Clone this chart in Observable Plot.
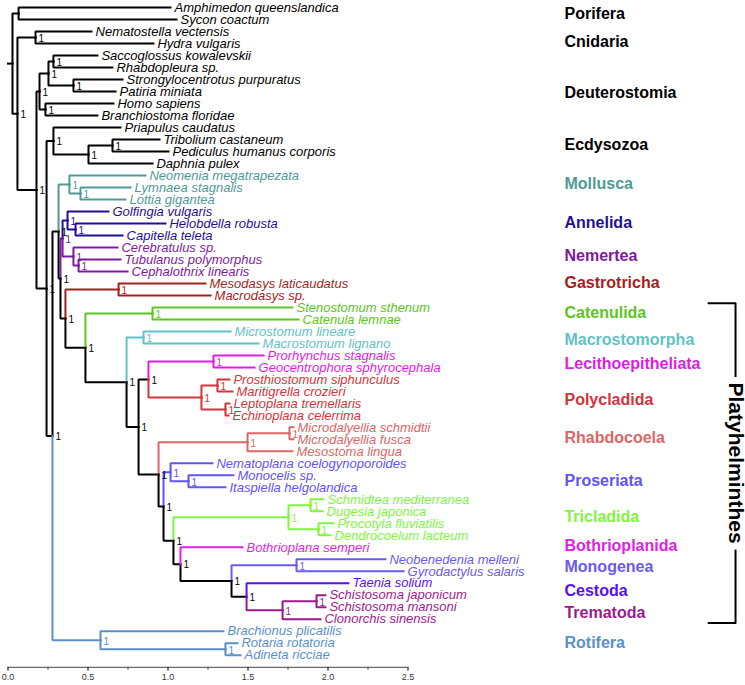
<!DOCTYPE html>
<html><head><meta charset="utf-8">
<script src="https://cdn.jsdelivr.net/npm/d3@7"></script>
<script src="https://cdn.jsdelivr.net/npm/@observablehq/plot@0.6"></script>
<style>html,body{margin:0;padding:0;background:#fff}</style>
</head><body><div id="chart"></div>
<script>
// ---------- DATA ----------
// Tips, top to bottom, with parent node and root-to-tip depth (substitutions/site)
const tipNames = [
 "Amphimedon queenslandica","Sycon coactum","Nematostella vectensis","Hydra vulgaris",
 "Saccoglossus kowalevskii","Rhabdopleura sp.","Strongylocentrotus purpuratus","Patiria miniata",
 "Homo sapiens","Branchiostoma floridae","Priapulus caudatus","Tribolium castaneum",
 "Pediculus humanus corporis","Daphnia pulex","Neomenia megatrapezata","Lymnaea stagnalis",
 "Lottia gigantea","Golfingia vulgaris","Helobdella robusta","Capitella teleta",
 "Cerebratulus sp.","Tubulanus polymorphus","Cephalothrix linearis","Mesodasys laticaudatus",
 "Macrodasys sp.","Stenostomum sthenum","Catenula lemnae","Microstomum lineare",
 "Macrostomum lignano","Prorhynchus stagnalis","Geocentrophora sphyrocephala","Prosthiostomum siphunculus",
 "Maritigrella crozieri","Leptoplana tremellaris","Echinoplana celerrima","Microdalyellia schmidtii",
 "Microdalyellia fusca","Mesostoma lingua","Nematoplana coelogynoporoides","Monocelis sp.",
 "Itaspiella helgolandica","Schmidtea mediterranea","Dugesia japonica","Procotyla fluviatilis",
 "Dendrocoelum lacteum","Bothrioplana semperi","Neobenedenia melleni","Gyrodactylus salaris",
 "Taenia solium","Schistosoma japonicum","Schistosoma mansoni","Clonorchis sinensis",
 "Brachionus plicatilis","Rotaria rotatoria","Adineta ricciae"
];
const tipParents = [
 "Porifera","Porifera","Cnidaria","Cnidaria",
 "Hemichordata","Hemichordata","Echinodermata","Echinodermata",
 "Chordata","Chordata","Ecdysozoa","Insecta",
 "Insecta","Arthropoda","Mollusca","Conchifera",
 "Conchifera","Annelida","Pleistoannelida","Pleistoannelida",
 "Nemertea","Palaeonemertea","Palaeonemertea","Gastrotricha",
 "Gastrotricha","Catenulida","Catenulida","Macrostomorpha",
 "Macrostomorpha","Lecithoepitheliata","Lecithoepitheliata","PolyA",
 "PolyA","PolyB","PolyB","Microdalyellia",
 "Microdalyellia","Rhabdocoela","Proseriata","ProsB",
 "ProsB","TriA","TriA","TriB",
 "TriB","Bothrio+Neodermata","Monogenea","Monogenea",
 "Cercomeromorphae","Schistosoma","Schistosoma","Trematoda",
 "Rotifera","Bdelloidea","Bdelloidea"
];
const tipDepths = [
 1.016,1.053,0.522,0.909,
 0.559,0.653,0.716,0.672,
 0.659,0.559,0.703,0.947,
 1.003,0.903,0.859,0.766,
 0.734,0.628,0.984,0.716,
 0.684,0.703,0.747,1.234,
 1.266,1.778,1.816,1.391,
 1.566,1.597,1.541,1.384,
 1.403,1.384,1.378,1.784,
 1.784,1.778,1.278,1.409,
 1.359,1.972,1.966,2.034,
 2.016,1.466,2.359,2.472,
 2.128,1.984,1.984,1.953,
 1.347,1.434,1.453
];
// Internal nodes with parent and depth
const nodeNames = [
 "root","Porifera","Eumetazoa","Cnidaria","Bilateria","Deuterostomia","Ambulacraria","Hemichordata",
 "Echinodermata","Chordata","Protostomia","Ecdysozoa","Arthropoda","Insecta","Spiralia","SpiraliaU",
 "Mollusca","Conchifera","Lophotrochozoa","Annelida+Nemertea","Annelida","Pleistoannelida","Nemertea","Palaeonemertea",
 "Rouphozoa","Gastrotricha","Platyhelminthes","Catenulida","Rhabditophora","Macrostomorpha","Trepaxonemata","Lecitho+Polyclad",
 "Lecithoepitheliata","Polycladida","PolyA","PolyB","Euneoophora","Rhabdocoela","Microdalyellia","Proseriata+",
 "Proseriata","ProsB","Tricladida+","Tricladida","TriA","TriB","Bothrio+Neodermata","Neodermata",
 "Monogenea","Cercomeromorphae","Trematoda","Schistosoma","Rotifera","Bdelloidea"
];
const nodeParents = [
 null,"root","root","Eumetazoa","Eumetazoa","Bilateria","Deuterostomia","Ambulacraria",
 "Ambulacraria","Deuterostomia","Bilateria","Protostomia","Ecdysozoa","Arthropoda","Protostomia","Spiralia",
 "SpiraliaU","Mollusca","SpiraliaU","Lophotrochozoa","Annelida+Nemertea","Annelida","Annelida+Nemertea","Nemertea",
 "Lophotrochozoa","Rouphozoa","Rouphozoa","Platyhelminthes","Platyhelminthes","Rhabditophora","Rhabditophora","Trepaxonemata",
 "Lecitho+Polyclad","Lecitho+Polyclad","Polycladida","Polycladida","Trepaxonemata","Euneoophora","Rhabdocoela","Euneoophora",
 "Proseriata+","Proseriata","Proseriata+","Tricladida+","Tricladida","Tricladida","Tricladida+","Bothrio+Neodermata",
 "Neodermata","Neodermata","Cercomeromorphae","Trematoda","Spiralia","Rotifera"
];
const nodeDepths = [
 0.028,0.066,0.059,0.172,0.178,0.197,0.253,0.284,
 0.409,0.234,0.241,0.284,0.503,0.653,0.278,0.316,
 0.384,0.453,0.328,0.341,0.372,0.422,0.409,0.441,
 0.359,0.691,0.484,0.903,0.741,0.847,0.816,0.878,
 1.284,1.209,1.309,1.359,0.941,1.497,1.759,0.972,
 1.016,1.128,1.034,1.753,1.891,1.941,1.078,1.397,
 1.803,1.491,1.716,1.928,0.578,1.359
];
// Support values shown at nodes (posterior = 1)
const supportValue = "1";
const unlabeledNodes = ["root","Porifera"];

// Clades named on the right: label, node where the clade begins, label row
const cladeNames = ["Porifera","Cnidaria","Deuterostomia","Ecdysozoa","Mollusca","Annelida","Nemertea","Gastrotricha",
 "Catenulida","Macrostomorpha","Lecithoepitheliata","Polycladida","Rhabdocoela","Proseriata","Tricladida",
 "Bothrioplanida","Monogenea","Cestoda","Trematoda","Rotifera"];
const cladeRootNodes = ["Porifera","Cnidaria","Deuterostomia","Ecdysozoa","Mollusca","Annelida","Annelida+Nemertea","Gastrotricha",
 "Catenulida","Macrostomorpha","Lecithoepitheliata","Polycladida","Rhabdocoela","Proseriata","Tricladida",
 "Bothrioplana semperi","Monogenea","Taenia solium","Trematoda","Rotifera"];
const cladeRows = [0.5,2.83,7.09,11.42,14.67,17.92,20.67,22.92,25.42,27.67,29.67,32.67,35.84,39.42,42.43,44.84,46.6,48.6,50.5,53.0];
const superClade = {name: "Platyhelminthes", first: "Stenostomum sthenum", last: "Clonorchis sinensis"};
const axisLabels = [0, 0.5, 1.0, 1.5, 2.0, 2.5];
const axisMinor = [0, 0.25, 0.5, 0.75, 1.0, 1.25, 1.5, 1.75, 2.0, 2.25, 2.5];

// ---------- STYLE ----------
const cladeColors = ["#000","#000","#000","#000","#4f9a97","#1f0f99","#7d1aa0","#a51e1e",
 "#5cc620","#5fc3c6","#e01be6","#d6333a","#dc6666","#6254f2","#80f53e",
 "#e21ee8","#6a5af0","#5512ee","#9c1a8f","#5b8fcb"];
const FONT = "'Liberation Sans', Arial, Helvetica, sans-serif";
const cladeLabelX = 3.478;     // right-hand label column, in x units
const bracketX0 = 4.378, bracketX1 = 4.547;

// ---------- LAYOUT ----------
const parentOf = new Map(), depthOf = new Map(), children = new Map();
nodeNames.forEach((n, i) => { parentOf.set(n, nodeParents[i]); depthOf.set(n, nodeDepths[i]); });
tipNames.forEach((n, i) => { parentOf.set(n, tipParents[i]); depthOf.set(n, tipDepths[i]); });
for (const [n, p] of parentOf) if (p) { if (!children.has(p)) children.set(p, []); children.get(p).push(n); }
const tipIndex = new Map(tipNames.map((n, i) => [n, i]));
const yCache = new Map();
function yOf(n) {
  if (tipIndex.has(n)) return tipIndex.get(n);
  if (yCache.has(n)) return yCache.get(n);
  const ys = children.get(n).map(yOf);
  const v = (d3.min(ys) + d3.max(ys)) / 2;
  yCache.set(n, v); return v;
}
function groupOf(n) {
  let c = n;
  while (c) { const k = cladeRootNodes.indexOf(c); if (k >= 0) return cladeNames[k]; c = parentOf.get(c); }
  return "Backbone";
}
const allNames = [...nodeNames, ...tipNames];
const edgePts = [];
for (const n of allNames) {
  const p = parentOf.get(n);
  const g = groupOf(n);
  if (!p) {
    edgePts.push({e: n, g, x: 0, y: yOf(n)}, {e: n, g, x: depthOf.get(n), y: yOf(n)});
    continue;
  }
  edgePts.push({e: n, g, x: depthOf.get(p), y: yOf(p)},
               {e: n, g, x: depthOf.get(p), y: yOf(n)},
               {e: n, g, x: depthOf.get(n), y: yOf(n)});
}
const tipsData = tipNames.map(n => ({name: n, x: depthOf.get(n), y: yOf(n), g: groupOf(n)}));
const nodeLabels = nodeNames.filter(n => !unlabeledNodes.includes(n))
  .map(n => ({x: depthOf.get(n), y: yOf(n), g: groupOf(n), t: supportValue}));
const cladeData = cladeNames.map((c, i) => ({name: c, y: cladeRows[i], g: c}));
const bTop = tipIndex.get(superClade.first) - 0.35, bBot = tipIndex.get(superClade.last) + 0.3;
const bracket = [{x: bracketX0, y: bTop}, {x: bracketX1, y: bTop}, {x: bracketX1, y: bBot}, {x: bracketX0, y: bBot}];

const nRows = tipNames.length; // 55 -> axis one row below the last tip
const chart = Plot.plot({
  width: 745, height: 685,
  marginLeft: 7.5, marginRight: 337.5, marginTop: 7, marginBottom: 18.2,
  style: {fontFamily: FONT, background: "#fff", overflow: "visible"},
  x: {domain: [0, 2.5], axis: null, label: null},
  y: {domain: [0, nRows], reverse: true, axis: null, label: null},
  color: {type: "ordinal", domain: [...cladeNames, "Backbone"], range: [...cladeColors, "#000"]},
  marks: [
    Plot.ruleY([nRows], {stroke: "#444", strokeWidth: 1}),
    Plot.axisX({ticks: axisMinor, tickSize: 3, tickFormat: () => "", stroke: "#444", label: null}),
    Plot.axisX({ticks: axisLabels, tickSize: 4, tickPadding: 2, tickFormat: d3.format(".1f"), fontSize: 9, fill: "#333", stroke: "#444", label: null}),
    Plot.line(edgePts, {x: "x", y: "y", z: "e", stroke: "g", strokeWidth: 2, strokeLinecap: "square", strokeLinejoin: "miter"}),
    Plot.text(nodeLabels, {x: "x", y: "y", text: "t", fill: "g", fontSize: 10, dx: 3, dy: 1, textAnchor: "start"}),
    Plot.text(tipsData, {x: "x", y: "y", text: "name", fill: "g", fontSize: 13, fontStyle: "italic", dx: 4, textAnchor: "start"}),
    Plot.text(cladeData, {x: () => cladeLabelX, y: "y", text: "name", fill: "g", fontSize: 16, fontWeight: "bold", textAnchor: "start"}),
    Plot.line(bracket, {x: "x", y: "y", stroke: "#000", strokeWidth: 2}),
    Plot.text([superClade], {x: () => bracketX1, y: () => (bTop + bBot) / 2, text: "name", rotate: 90, fontSize: 21, fontWeight: "bold", fill: "#000", stroke: "#fff", strokeWidth: 14, paintOrder: "stroke"})
  ]
});
document.getElementById("chart").appendChild(chart);
</script>
</body></html>
